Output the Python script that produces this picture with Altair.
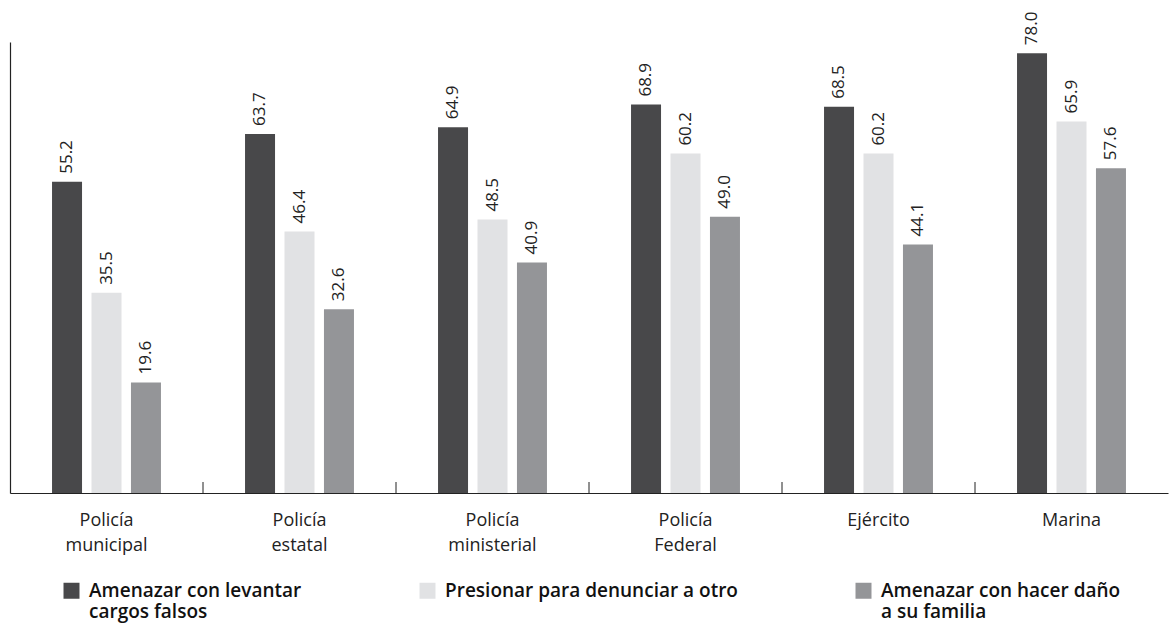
import altair as alt
import pandas as pd

# Corporaciones (eje x) y tipos de presión (series)
corporaciones = ["Policía municipal", "Policía estatal", "Policía ministerial",
                 "Policía Federal", "Ejército", "Marina"]
etiquetas_eje = ["Policía\nmunicipal", "Policía\nestatal", "Policía\nministerial",
                 "Policía\nFederal", "Ejército", "Marina"]
series = ["Amenazar con levantar\ncargos falsos",
          "Presionar para denunciar a otro",
          "Amenazar con hacer daño\na su familia"]
colores = ["#48484a", "#e1e2e4", "#949598"]

cargos_falsos = [55.2, 63.7, 64.9, 68.9, 68.5, 78.0]
denunciar_otro = [35.5, 46.4, 48.5, 60.2, 60.2, 65.9]
dano_familia = [19.6, 32.6, 40.9, 49.0, 44.1, 57.6]

filas = []
for i, corp in enumerate(etiquetas_eje):
    for serie, valores in zip(series, [cargos_falsos, denunciar_otro, dano_familia]):
        filas.append({"corporacion": corp, "serie": serie, "valor": valores[i]})
df = pd.DataFrame(filas)

FONT = "Open Sans"
W, H = 1158, 451

x_enc = alt.X("corporacion:N", sort=etiquetas_eje,
              scale=alt.Scale(paddingInner=0, paddingOuter=0),
              axis=alt.Axis(title=None, labelAngle=0, ticks=False, labelPadding=18,
                            labelFontSize=18, labelFont=FONT, labelColor="#222222",
                            labelLineHeight=25, labelExpr="split(datum.label, '\\n')",
                            domainColor="#222222", domainWidth=1.2))
y_enc = alt.Y("valor:Q", scale=alt.Scale(domain=[0, 80], nice=False),
              axis=alt.Axis(title=None, labels=False, ticks=False, grid=False,
                            domainColor="#222222", domainWidth=1.2))
off_enc = alt.XOffset("serie:N", sort=series,
                      scale=alt.Scale(paddingInner=0.11, paddingOuter=1))

base = alt.Chart(df).encode(x=x_enc, y=y_enc, xOffset=off_enc)

# Todas las entradas de la leyenda con dos renglones para que queden alineadas
etiqueta_leyenda = ("split(indexof(datum.label, '\\n') < 0 ? datum.label + '\\n ' : datum.label, '\\n')")

barras = base.mark_bar(width=30).encode(
    color=alt.Color("serie:N", sort=series,
                    scale=alt.Scale(domain=series, range=colores),
                    legend=alt.Legend(title=None, orient="none", legendX=52, legendY=539,
                                      columns=3, columnPadding=116, direction="horizontal",
                                      symbolType="square", symbolSize=256,
                                      symbolStrokeWidth=0, symbolOpacity=1,
                                      labelFont=FONT, labelFontSize=19, labelFontWeight=600,
                                      labelColor="#111111", labelLimit=400,
                                      labelBaseline="middle",
                                      labelOffset=8, padding=0,
                                      labelExpr=etiqueta_leyenda))
)

valores = base.mark_text(angle=270, align="left", baseline="middle", dx=8,
                         font=FONT, fontSize=17, color="#222222").encode(
    text=alt.Text("valor:Q", format=".1f")
)

# Marcas de separación entre grupos, hacia arriba desde el eje
sep = pd.DataFrame({"corporacion": etiquetas_eje[1:]})
marcas = alt.Chart(sep).mark_rule(color="#222222", strokeWidth=1).encode(
    x=alt.X("corporacion:N", sort=etiquetas_eje, bandPosition=0),
    y=alt.value(H - 11), y2=alt.value(H)
)

chart = alt.layer(barras, valores, marcas).properties(
    width=W, height=H,
    background="white",
    autosize=alt.AutoSizeParams(type="none"),
    padding={"left": 10, "top": 42, "right": 1, "bottom": 131},
).configure_view(strokeWidth=0, stroke="transparent")

chart.save("out.html", embed_options={"renderer": "svg", "actions": False})
